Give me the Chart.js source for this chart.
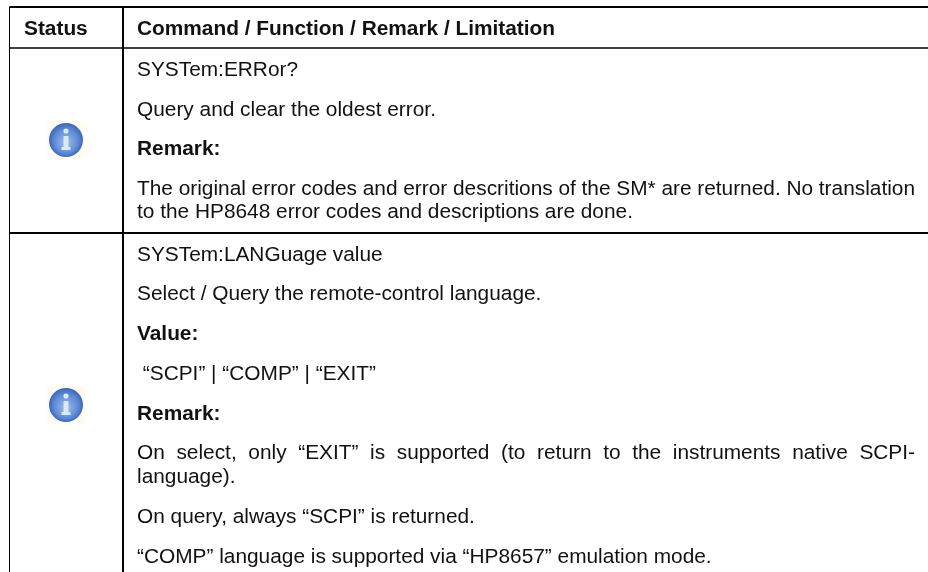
<!DOCTYPE html>
<html>
<head>
<meta charset="utf-8">
<script src="https://cdn.jsdelivr.net/npm/chart.js@4/dist/chart.umd.min.js"></script>
<style>
  html, body { margin: 0; padding: 0; background: #fff; }
  canvas { display: block; }
</style>
</head>
<body>
<canvas id="table" width="928" height="572"></canvas>
<script>
// table grid, in page pixels
const columnEdges = [9.5, 123, 928];
const rowEdges = [7, 48, 233, 572];

const statusHeader = 'Status';
const commandHeader = 'Command / Function / Remark / Limitation';
const headerBaseline = 35;
const statusIconX = [66, 66];
const statusIconY = [140, 405];

const textLines = [
  'SYSTem:ERRor?',
  'Query and clear the oldest error.',
  'Remark:',
  'The original error codes and error descritions of the SM* are returned. No translation',
  'to the HP8648 error codes and descriptions are done.',
  'SYSTem:LANGuage value',
  'Select / Query the remote-control language.',
  'Value:',
  ' “SCPI” | “COMP” | “EXIT”',
  'Remark:',
  'On select, only “EXIT” is supported (to return to the instruments native SCPI-',
  'language).',
  'On query, always “SCPI” is returned.',
  '“COMP” language is supported via “HP8657” emulation mode.',
];
const textBaselines = [76, 116, 155, 195, 218, 261, 300, 340, 380, 420, 459, 483, 523, 563];
const boldLines = [2, 7, 9];
const justifiedLines = [3, 10];

const TEXT_X = 137;
const TEXT_RIGHT = 915;
const TEXT_FONT = '20.85px "Liberation Sans", Arial, sans-serif';
const BOLD_FONT = 'bold 20.85px "Liberation Sans", Arial, sans-serif';

function makeInfoIcon() {
  const size = 38;
  const c = document.createElement('canvas');
  c.width = size;
  c.height = size;
  const g = c.getContext('2d');
  g.fillStyle = '#fdfbf2';
  g.fillRect(0, 0, size, size);
  g.filter = 'blur(0.7px)';
  const grad = g.createRadialGradient(19, 22, 3, 19, 19, 18);
  grad.addColorStop(0, '#8fb2e6');
  grad.addColorStop(0.6, '#5f8ad6');
  grad.addColorStop(1, '#3560b4');
  g.fillStyle = grad;
  g.beginPath();
  g.arc(19, 19, 17, 0, Math.PI * 2);
  g.fill();
  g.fillStyle = '#dbe9f2';
  g.beginPath();
  g.arc(19, 10, 2.6, 0, Math.PI * 2);
  g.fill();
  g.fillRect(16.5, 15, 5, 12);
  g.fillRect(14.5, 26, 9, 3);
  return c;
}

function rule(x1, y1, x2, y2, width) {
  return {
    type: 'line',
    data: [{ x: x1, y: y1 }, { x: x2, y: y2 }],
    borderColor: '#000',
    borderWidth: width,
    pointRadius: 0,
    fill: false,
  };
}

const tableText = {
  id: 'tableText',
  afterDatasetsDraw(chart) {
    const { ctx, scales } = chart;
    const px = (v) => scales.x.getPixelForValue(v);
    const py = (v) => scales.y.getPixelForValue(v);
    ctx.save();
    ctx.fillStyle = '#111';
    ctx.textBaseline = 'alphabetic';
    ctx.textAlign = 'left';

    ctx.font = BOLD_FONT;
    ctx.fillText(statusHeader, px(24), py(headerBaseline));
    ctx.fillText(commandHeader, px(TEXT_X), py(headerBaseline));

    textLines.forEach((line, i) => {
      ctx.font = boldLines.includes(i) ? BOLD_FONT : TEXT_FONT;
      const y = py(textBaselines[i]);
      if (!justifiedLines.includes(i)) {
        ctx.fillText(line, px(TEXT_X), y);
        return;
      }
      const words = line.split(' ');
      const used = words.reduce((sum, w) => sum + ctx.measureText(w).width, 0);
      const gap = (px(TEXT_RIGHT) - px(TEXT_X) - used) / (words.length - 1);
      let x = px(TEXT_X);
      words.forEach((w) => {
        ctx.fillText(w, x, y);
        x += ctx.measureText(w).width + gap;
      });
    });
    ctx.restore();
  },
};

new Chart(document.getElementById('table'), {
  type: 'scatter',
  data: {
    datasets: [
      rule(columnEdges[0], rowEdges[0], columnEdges[2], rowEdges[0], 2),
      rule(columnEdges[0], rowEdges[1], columnEdges[2], rowEdges[1], 1.3),
      rule(columnEdges[0], rowEdges[2], columnEdges[2], rowEdges[2], 2),
      rule(columnEdges[0], rowEdges[0], columnEdges[0], rowEdges[3], 1),
      rule(columnEdges[1], rowEdges[0], columnEdges[1], rowEdges[3], 2),
      {
        data: statusIconX.map((x, i) => ({ x, y: statusIconY[i] })),
        pointStyle: makeInfoIcon(),
        pointRadius: 19,
      },
    ],
  },
  options: {
    responsive: false,
    animation: false,
    layout: { padding: 0, autoPadding: false },
    plugins: { legend: { display: false }, tooltip: { enabled: false } },
    scales: {
      x: { type: 'linear', display: false, min: 0, max: 928 },
      y: { type: 'linear', display: false, min: 0, max: 572, reverse: true },
    },
  },
  plugins: [tableText],
});
</script>
</body>
</html>
